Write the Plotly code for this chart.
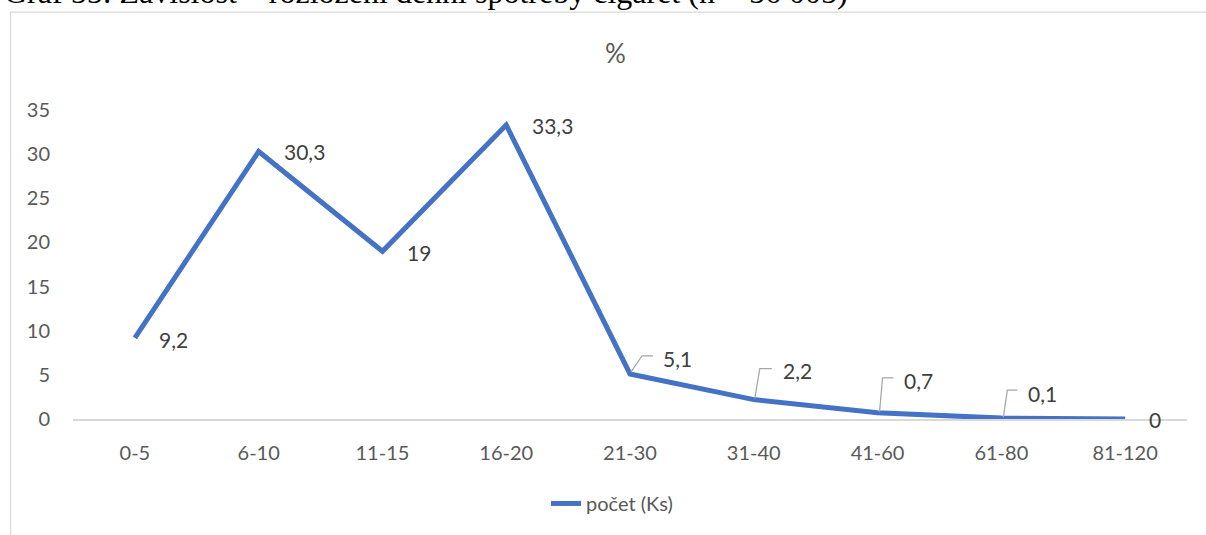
import plotly.graph_objects as go

categories = ["0-5", "6-10", "11-15", "16-20", "21-30", "31-40", "41-60", "61-80", "81-120"]
values = [9.2, 30.3, 19, 33.3, 5.1, 2.2, 0.7, 0.1, 0]
value_labels = ["9,2", "30,3", "19", "33,3", "5,1", "2,2", "0,7", "0,1", "0"]
series_name = "počet (Ks)"
chart_title = "%"
caption = "Graf 55: Závislost – rozložení denní spotřeby cigaret (n = 56 005)"
y_ticks = [0, 5, 10, 15, 20, 25, 30, 35]

# label offsets in pixels (styling)
label_dx = [22, 23, 23, 24, 31, 27, 24, 25, 22]
label_dy = [-2, 0, -1, 0, 15, 29, 32, 25, 0]
# leader lines (pixel paths relative to the point), None = no leader
leaders = [None, None, None, None,
           "M 1,2 L 12,18 L 23,18",
           "M 1,1 L 6,31 L 18,31",
           "M 2,1 L 5,35 L 16,35",
           "M 2,1 L 6,28 L 16,28",
           None]

W, H = 1206, 535
L, R, T, B = 73, 19, 110, 114
pw, ph = W - L - R, H - T - B

def px_x(p):
    return (p - L) / pw

def px_y(p):
    return (H - B - p) / ph

xs = list(range(len(categories)))

fig = go.Figure()
fig.add_trace(go.Scatter(
    x=xs, y=values, mode="lines", name=series_name,
    line=dict(color="#4472C4", width=5),
    showlegend=True, hoverinfo="skip",
))

annotations = []
for i, (v, t) in enumerate(zip(values, value_labels)):
    annotations.append(dict(
        x=i, y=v, xref="x", yref="y", text=t, showarrow=False,
        xanchor="left", yanchor="middle",
        xshift=label_dx[i], yshift=label_dy[i],
        font=dict(family="Lato", size=21, color="#404040"),
    ))

# caption, partly cut off at the top of the page (as in the reference)
annotations.append(dict(
    x=px_x(2), y=px_y(11), xref="paper", yref="paper", text=caption,
    showarrow=False, xanchor="left", yanchor="bottom",
    font=dict(family="Liberation Serif", size=32, color="#000000"),
))
# chart title
annotations.append(dict(
    x=px_x(615), y=px_y(53), xref="paper", yref="paper", text=chart_title,
    showarrow=False, xanchor="center", yanchor="middle",
    font=dict(family="Lato", size=26, color="#595959"),
))

shapes = [dict(
    type="rect", xref="paper", yref="paper",
    x0=px_x(10.5), x1=px_x(1230), y0=px_y(560), y1=px_y(11.5),
    line=dict(color="#d9d9d9", width=1.25), fillcolor="rgba(0,0,0,0)", layer="below",
)]
for i, (v, p) in enumerate(zip(values, leaders)):
    if p:
        shapes.append(dict(
            type="path", xref="x", yref="y",
            xsizemode="pixel", ysizemode="pixel",
            xanchor=i, yanchor=v, path=p,
            line=dict(color="#a6a6a6", width=1.25), layer="above",
        ))

fig.update_layout(
    width=W, height=H,
    margin=dict(l=L, r=R, t=T, b=B, pad=0),
    paper_bgcolor="white", plot_bgcolor="white",
    annotations=annotations, shapes=shapes,
    showlegend=True,
    legend=dict(
        orientation="h", x=px_x(612), y=px_y(506),
        xanchor="center", yanchor="middle",
        font=dict(family="Lato", size=20, color="#595959"),
        bgcolor="rgba(0,0,0,0)",
    ),
    xaxis=dict(
        range=[-0.5, len(categories) - 0.5],
        tickmode="array", tickvals=xs, ticktext=categories,
        showgrid=False, zeroline=False,
        showline=True, linecolor="#d9d9d9", linewidth=1.5,
        ticks="", ticklen=0, ticklabelstandoff=15,
        tickfont=dict(family="Lato", size=20, color="#595959"),
        fixedrange=True,
    ),
    yaxis=dict(
        range=[0, 35], tickvals=y_ticks,
        showgrid=False, zeroline=False, showline=False,
        ticks="", ticklabelstandoff=22,
        tickfont=dict(family="Lato", size=20, color="#595959"),
        fixedrange=True,
    ),
)

fig.write_html(
    "out.html",
    config={"displayModeBar": False},
    post_script="document.body.style.margin='0';document.body.style.overflow='hidden';",
)
